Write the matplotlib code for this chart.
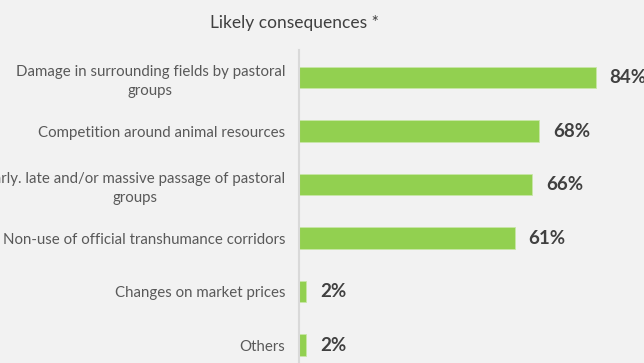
import matplotlib.pyplot as plt

categories = [
    "Damage in surrounding fields by pastoral\ngroups",
    "Competition around animal resources",
    "Early. late and/or massive passage of pastoral\ngroups",
    "Non-use of official transhumance corridors",
    "Changes on market prices",
    "Others",
]
values = [84, 68, 66, 61, 2, 2]
title = "Likely consequences *"

bg = "#F2F2F2"
green = "#92D050"

plt.rcParams["font.family"] = ["Lato", "DejaVu Sans"]

fig = plt.figure(figsize=(6.44, 3.63), dpi=100, facecolor=bg)
ax = fig.add_axes([299 / 644, 0, 345 / 644, 313 / 363], facecolor=bg)

pos = list(range(len(categories)))
ax.barh(pos, values, height=0.40, color=green, edgecolor="#C9E6A8", linewidth=0.6)

ax.set_xlim(0, 345 / 3.533)
ax.set_ylim(5.336, -0.514)

ax.set_yticks(pos)
ax.set_yticklabels(categories, fontsize=10.8, color="#595959", ma="center",
                   linespacing=1.45)
ax.tick_params(axis="y", length=0, pad=10)
ax.set_xticks([])

for side in ["top", "right", "bottom"]:
    ax.spines[side].set_visible(False)
ax.spines["left"].set_color("#D9D9D9")
ax.spines["left"].set_linewidth(1.5)

for p, v in zip(pos, values):
    ax.annotate(f"{v}%", xy=(v, p), xytext=(10, 0), textcoords="offset points",
                va="center", ha="left", fontsize=13.5, fontweight="bold",
                color="#404040")

fig.text(294 / 644, 1 - 23 / 363, title, ha="center", va="center",
         fontsize=12.5, color="#404040")

fig.savefig("out.png", dpi=100, facecolor=bg)
